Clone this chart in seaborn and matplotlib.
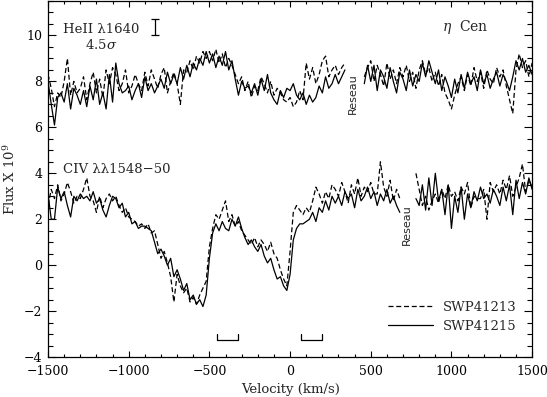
import numpy as np
import pandas as pd
import matplotlib
matplotlib.use("Agg")
import matplotlib.pyplot as plt
from matplotlib.ticker import MultipleLocator
from matplotlib.lines import Line2D
import seaborn as sns

nan = np.nan
# velocity grid (km/s)
velocity = list(range(-1500, 1501, 20))

# HeII 1640, SWP41215 (solid)
heii_swp41215 = [
    8.0, 7.0, 6.1, 7.3, 7.5, 7.1, 7.9, 6.8, 7.7, 7.4,
    7.0, 7.6, 6.9, 7.8, 7.2, 8.1, 7.0, 7.5, 6.8, 8.3,
    7.1, 8.8, 7.9, 7.5, 7.6, 7.8, 7.2, 7.6, 7.9, 7.3,
    8.2, 7.6, 7.9, 7.5, 7.8, 8.1, 7.7, 8.4, 7.9, 8.3,
    7.9, 8.6, 8.1, 8.7, 8.2, 8.8, 8.5, 9.0, 8.7, 9.3,
    8.8, 9.2, 8.6, 9.1, 8.7, 9.3, 8.5, 8.9, 8.1, 7.4,
    8.0, 7.7, 7.8, 7.5, 7.9, 7.4, 8.1, 7.6, 8.3, 7.5,
    7.2, 7.0, 7.6, 7.3, 7.7, 7.6, 7.9, 7.4, 7.2, 7.5,
    7.0, 7.4, 7.1, 7.3, 7.8, 7.5, 8.2, 7.7, 7.9, 8.3,
    7.9, 8.2, 8.5, nan, nan, nan, nan, nan, 7.9, 8.7,
    8.0, 8.7, 7.6, 8.5, 8.2, 7.7, 8.6, 8.0, 7.5, 8.4,
    8.1, 7.6, 8.5, 7.8, 8.3, 8.0, 8.8, 8.2, 8.9, 8.4,
    7.9, 8.5, 7.6, 8.2, 7.8, 7.3, 8.1, 7.5, 8.3, 7.7,
    8.4, 7.9, 8.2, 7.6, 8.5, 7.9, 8.3, 7.7, 8.1, 8.4,
    7.8, 8.3, 8.0, 7.6, 8.2, 8.9, 8.5, 9.0, 8.4, 8.7, 8.3,
]
# HeII 1640, SWP41213 (dashed)
heii_swp41213 = [
    8.3, 7.7, 6.9, 7.5, 7.3, 8.0, 9.0, 7.4, 8.0, 7.5,
    7.7, 8.2, 7.2, 7.9, 8.4, 7.5, 8.1, 7.3, 8.5, 7.9,
    8.6, 8.3, 7.6, 7.9, 8.5, 7.5, 7.8, 8.3, 7.9, 7.6,
    8.4, 7.8, 8.5, 8.1, 7.7, 8.3, 8.6, 7.5, 8.0, 8.4,
    7.9, 7.0, 8.5, 8.4, 8.9, 8.5, 9.1, 8.8, 9.3, 9.0,
    9.3, 8.9, 9.4, 8.8, 9.2, 8.6, 9.0, 8.7, 8.3, 7.9,
    8.2, 7.6, 8.0, 7.3, 7.8, 7.6, 8.2, 7.9, 7.5, 8.0,
    7.4, 7.7, 7.5, 7.2, 7.1, 7.3, 6.9, 7.1, 7.6, 7.2,
    8.8, 8.1, 8.6, 7.9, 8.3, 8.9, 9.1, 8.2, 8.5, 8.7,
    8.3, 8.6, 8.8, nan, nan, nan, nan, nan, 8.2, 8.6,
    8.9, 8.0, 8.7, 8.3, 7.8, 8.8, 8.1, 8.5, 7.9, 8.6,
    8.2, 8.7, 8.0, 8.4, 7.7, 8.5, 8.9, 8.3, 8.6, 8.0,
    8.4, 7.8, 8.3, 7.5, 7.2, 6.8, 7.4, 7.9, 8.2, 7.6,
    8.3, 7.8, 8.6, 8.0, 8.4, 7.7, 8.5, 8.1, 7.9, 8.6,
    8.2, 8.5, 7.8, 7.2, 6.6, 8.5, 9.2, 8.6, 8.9, 8.2, 8.8,
]
# CIV 1548-50, SWP41215 (solid)
civ_swp41215 = [
    3.1, 2.0, 2.0, 3.4, 2.9, 3.2, 2.6, 2.1, 3.0, 2.8,
    3.1, 2.9, 3.0, 2.8, 3.2, 2.7, 2.9, 2.4, 2.1, 2.6,
    3.0, 2.9, 2.5, 2.7, 2.1, 2.3, 1.8, 1.9, 1.6, 1.7,
    1.7, 1.6, 1.5, 1.0, 0.5, 0.7, 0.4, 0.0, 0.3, -0.5,
    -0.2, -0.6, -1.1, -0.8, -1.5, -1.3, -1.7, -1.5, -1.8, -1.3,
    0.3, 1.4, 1.8, 1.5, 1.9, 1.6, 1.5, 2.0, 1.7, 2.1,
    1.6, 1.2, 0.9, 1.1, 0.8, 0.6, 0.9, 0.4, 0.1, 0.3,
    -0.2, -0.6, -0.5, -0.9, -1.1, -0.4, 1.1, 1.6, 1.8, 1.8,
    1.9, 2.0, 2.3, 1.9, 2.5, 2.3, 2.8, 2.4, 3.0, 2.7,
    3.0, 2.6, 3.2, 2.9, 3.1, 2.5, 3.3, 2.8, 3.0, 3.4,
    2.9, 3.2, 2.6, 3.1, 2.8, 3.3, 2.7, 3.0, 2.6, 2.3,
    nan, nan, nan, nan, 2.9, 2.6, 3.5, 2.4, 3.8, 2.6,
    4.0, 2.8, 3.3, 2.2, 3.5, 1.6, 3.0, 2.3, 3.4, 2.0,
    3.1, 2.5, 3.2, 2.8, 3.4, 2.9, 3.1, 2.7, 3.3, 3.0,
    2.6, 3.4, 2.8, 3.5, 2.2, 3.7, 2.9, 3.6, 3.1, 3.8, 3.3,
]
# CIV 1548-50, SWP41213 (dashed)
civ_swp41213 = [
    2.6, 3.3, 2.9, 3.5, 2.8, 3.1, 3.6, 3.2, 2.7, 3.0,
    2.9, 3.3, 3.8, 3.0, 2.8, 2.3, 3.0, 2.5, 2.9, 3.1,
    2.8, 3.0, 2.6, 2.3, 2.5, 2.1, 2.0, 1.9, 1.7, 1.8,
    1.6, 1.8, 1.4, 1.5, 0.9, 0.3, 0.6, 0.1, -0.5, -1.6,
    -0.4, -0.9, -1.2, -1.0, -1.6, -1.4, -1.7, -1.3, -1.0, -0.7,
    0.8, 1.6, 2.2, 2.0, 2.4, 2.8, 1.9, 2.2, 1.7, 1.9,
    1.5, 1.3, 1.1, 0.9, 1.2, 0.8, 1.1, 0.9, 0.6, 1.0,
    0.5, 0.3, -0.2, -0.6, -0.9, 0.6, 2.3, 2.6, 2.4, 2.2,
    2.5, 2.3, 2.8, 3.4, 3.1, 2.7, 3.2, 2.9, 3.5, 3.3,
    3.0, 3.6, 3.2, 2.7, 3.5, 3.1, 3.8, 3.0, 3.4, 3.2,
    3.6, 3.1, 3.1, 4.5, 3.4, 3.0, 3.7, 2.8, 3.3, 2.9,
    nan, nan, nan, nan, 4.0, 3.3, 2.6, 3.0, 2.4, 2.8,
    3.1, 2.7, 3.3, 2.9, 3.5, 3.0, 3.2, 2.8, 3.4, 3.1,
    3.6, 2.5, 3.0, 2.9, 2.9, 3.3, 2.0, 3.6, 3.2, 3.5,
    3.1, 3.7, 3.3, 3.9, 3.0, 3.4, 3.8, 4.4, 3.2, 3.7, 3.4,
]

legend_labels = ["SWP41213", "SWP41215"]
bracket_ranges = [(-450, -325), (70, 195)]
bracket_level = -3.25
errbar_x, errbar_y, errbar_half = -840, 10.37, 0.33

sns.set_style("ticks")
plt.rcParams["font.family"] = ["DejaVu Serif"]
plt.rcParams["mathtext.fontset"] = "dejavuserif"

fig = plt.figure(figsize=(5.47, 3.97), dpi=100)
ax = fig.add_axes([0.0878, 0.1005, 0.885, 0.8970])

def draw(series, dashes):
    df = pd.DataFrame({"v": velocity, "f": series})
    seg = df["f"].isna().cumsum()
    for _, part in df.groupby(seg):
        part = part.dropna()
        if len(part) < 2:
            continue
        ln = sns.lineplot(data=part, x="v", y="f", ax=ax, color="black",
                          lw=0.9, estimator=None, sort=False)
        if dashes:
            ln.lines[-1].set_dashes([4, 2.2])

draw(heii_swp41213, True)
draw(heii_swp41215, False)
draw(civ_swp41213, True)
draw(civ_swp41215, False)

ax.set_xlim(-1500, 1500)
ax.set_ylim(-4, 11.5)
ax.xaxis.set_major_locator(MultipleLocator(500))
ax.xaxis.set_minor_locator(MultipleLocator(100))
ax.yaxis.set_major_locator(MultipleLocator(2))
ax.yaxis.set_minor_locator(MultipleLocator(0.5))
ax.tick_params(which="both", direction="in", top=True, right=True,
               labelsize=9, width=0.8, colors="black")
ax.tick_params(axis="x", which="major", length=4, pad=6)
ax.tick_params(axis="x", which="minor", length=2.2)
ax.tick_params(axis="y", which="major", length=6, pad=4)
ax.tick_params(axis="y", which="minor", length=3.5)
for s in ax.spines.values():
    s.set_linewidth(0.9)
    s.set_color("black")

ax.set_xlabel("Velocity (km/s)", fontsize=9.5, labelpad=3)
ax.set_ylabel(r"Flux X 10$^9$", fontsize=9.5, labelpad=4)

ax.text(-1410, 10.25, "HeII λ1640", fontsize=9.5, va="center", ha="left")
ax.text(-1270, 9.6, r"4.5$\sigma$", fontsize=9.5, va="center", ha="left")
ax.errorbar([errbar_x], [errbar_y], yerr=[errbar_half], fmt="none",
            ecolor="black", elinewidth=0.9, capsize=3, capthick=0.9)
ax.text(940, 10.36, r"$\eta$  Cen", fontsize=10, va="center", ha="left")
ax.text(-1410, 4.15, "CIV λλ1548−50", fontsize=9.5, va="center", ha="left")
ax.text(390, 7.45, "Reseau", rotation=90, fontsize=8, va="center",
        ha="center", family="DejaVu Sans")
ax.text(722, 1.75, "Reseau", rotation=90, fontsize=8, va="center",
        ha="center", family="DejaVu Sans")

for (a, b) in bracket_ranges:
    ax.plot([a, a, b, b], [bracket_level + 0.25, bracket_level, bracket_level,
                           bracket_level + 0.25], color="black", lw=0.9)

handles = [Line2D([], [], color="black", lw=0.9, dashes=[4, 2.2]),
           Line2D([], [], color="black", lw=0.9)]
ax.legend(handles, legend_labels, loc="lower right", frameon=False,
          fontsize=9.5, handlelength=3.4, handletextpad=0.7,
          labelspacing=0.45, bbox_to_anchor=(0.978, 0.053), borderaxespad=0)

fig.savefig("out.png", dpi=100)
